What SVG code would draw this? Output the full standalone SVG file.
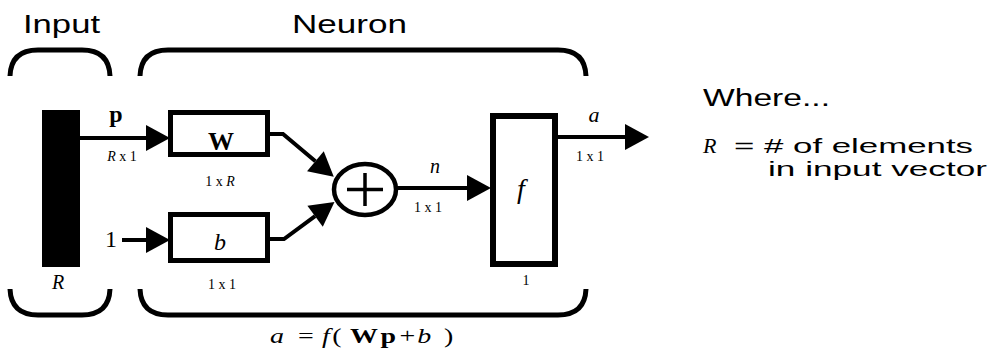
<svg xmlns="http://www.w3.org/2000/svg" width="995" height="355" viewBox="0 0 995 355">
<style>
.sans{font-family:"Liberation Sans",Arial,sans-serif;fill:#000}
.ser{font-family:"Liberation Serif","Times New Roman",serif;fill:#000}
.it{font-style:italic}
.bd{font-weight:bold}
.brace{fill:none;stroke:#000;stroke-width:5;stroke-linecap:butt}
.box{fill:#fff;stroke:#000;stroke-width:5}
.wire{fill:none;stroke:#000;stroke-width:4}
.dim{font-family:"Liberation Serif","Times New Roman",serif;font-size:14px;fill:#000}
</style>
<defs>
<marker id="ah" markerUnits="userSpaceOnUse" markerWidth="26" markerHeight="28" refX="0" refY="13" orient="auto" overflow="visible">
<path d="M0,0 L24,13 L0,26 Z" fill="#000"/>
</marker>
</defs>
<rect width="995" height="355" fill="#fff"/>

<g id="labels">
<text class="sans" x="23" y="33" font-size="26" textLength="77" lengthAdjust="spacingAndGlyphs">Input</text>
<text class="sans" x="292" y="33" font-size="26" textLength="115" lengthAdjust="spacingAndGlyphs">Neuron</text>
</g>

<g id="braces">
<path class="brace" d="M10,76 Q11,50 38,50 L82,50 Q109,50 110,76"/>
<path class="brace" d="M140,76 Q141,50 168,50 L558,50 Q585,50 586,76"/>
<path class="brace" d="M10,289 Q11,315 38,315 L82,315 Q109,315 110,289"/>
<path class="brace" d="M140,289 Q141,315 168,315 L558,315 Q585,315 586,289"/>
</g>

<g id="input">
<rect x="42" y="110" width="38" height="157" fill="#000"/>
<text class="ser it" x="58" y="289" font-size="20" text-anchor="middle">R</text>
</g>

<g id="one">
<text class="ser" x="111" y="247" font-size="24" text-anchor="middle">1</text>
</g>

<g id="W">
<rect class="box" x="170.5" y="112.5" width="97" height="42"/>
<text class="ser bd" x="221" y="150" font-size="26" text-anchor="middle">W</text>
<text class="dim" x="220" y="186" text-anchor="middle">1 x <tspan class="it">R</tspan></text>
</g>

<g id="b">
<rect class="box" x="170.5" y="214.5" width="97" height="46"/>
<text class="ser it" x="220" y="250" font-size="24" text-anchor="middle">b</text>
<text class="dim" x="222" y="289" text-anchor="middle">1 x 1</text>
</g>

<g id="sum">
<ellipse cx="365" cy="189.5" rx="31" ry="25.5" fill="#fff" stroke="#000" stroke-width="4.5"/>
<path d="M347,189.5 H383 M365,173 V206" stroke="#000" stroke-width="3.5" fill="none"/>
</g>

<g id="f">
<rect x="493" y="116" width="62" height="148" fill="#fff" stroke="#000" stroke-width="6"/>
<text class="ser it" x="521" y="198" font-size="28" text-anchor="middle">f</text>
<text class="dim" x="526" y="285" text-anchor="middle">1</text>
</g>

<g id="connectors">
<path class="wire" d="M80,138 H146" marker-end="url(#ah)"/>
<path class="wire" d="M122,240 H146" marker-end="url(#ah)"/>
<path class="wire" d="M267,134 H283 L315.4,161.2" marker-end="url(#ah)"/>
<path class="wire" d="M267,239 H284 L315.1,216.2" marker-end="url(#ah)"/>
<path class="wire" d="M396,188 H467" marker-end="url(#ah)"/>
<path class="wire" d="M558,137 H625" marker-end="url(#ah)"/>
</g>

<g id="wire-labels">
<text class="ser bd" x="116" y="122" font-size="24" text-anchor="middle">p</text>
<text class="dim" x="122" y="161" text-anchor="middle"><tspan class="it">R</tspan> x 1</text>
<text class="ser it" x="435" y="173" font-size="20" text-anchor="middle">n</text>
<text class="dim" x="428" y="212" text-anchor="middle">1 x 1</text>
<text class="ser it" x="594" y="122" font-size="22" text-anchor="middle">a</text>
<text class="dim" x="590" y="161" text-anchor="middle">1 x 1</text>
</g>

<g id="formula" transform="translate(270,343) scale(1.27,1)">
<text class="ser" y="0" font-size="22"><tspan class="it" x="0">a</tspan><tspan x="22">=</tspan><tspan class="it" x="41">f</tspan><tspan x="49">(</tspan><tspan class="bd" x="63">W</tspan><tspan class="bd" x="87">p</tspan><tspan x="102">+</tspan><tspan class="it" x="116">b</tspan><tspan x="137">)</tspan></text>
</g>

<g id="legend">
<text class="sans" x="703" y="106" font-size="23" textLength="127" lengthAdjust="spacingAndGlyphs">Where...</text>
<text class="ser it" x="703" y="153" font-size="22">R</text>
<text class="sans" x="734" y="153" font-size="21" textLength="239" lengthAdjust="spacingAndGlyphs">= # of elements</text>
<text class="sans" x="768" y="176" font-size="21" textLength="219" lengthAdjust="spacingAndGlyphs">in input vector</text>
</g>
</svg>
